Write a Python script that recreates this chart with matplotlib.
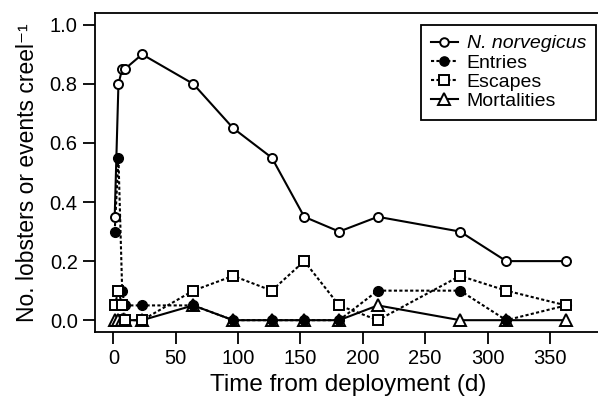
import matplotlib
matplotlib.use("Agg")
import matplotlib.pyplot as plt

plt.rcParams['font.family'] = ['Liberation Sans', 'DejaVu Sans']

days = [1, 4, 7, 9, 23, 64, 96, 127, 153, 181, 212, 278, 315, 363]
norvegicus = [0.35, 0.80, 0.85, 0.85, 0.90, 0.80, 0.65, 0.55, 0.35, 0.30, 0.35, 0.30, 0.20, 0.20]
entries = [0.30, 0.55, 0.10, 0.05, 0.05, 0.05, 0.0, 0.0, 0.0, 0.0, 0.10, 0.10, 0.0, 0.05]
escapes = [0.05, 0.10, 0.05, 0.0, 0.0, 0.10, 0.15, 0.10, 0.20, 0.05, 0.0, 0.15, 0.10, 0.05]
mortalities = [0.0, 0.0, 0.0, 0.0, 0.0, 0.05, 0.0, 0.0, 0.0, 0.0, 0.05, 0.0, 0.0, 0.0]

xticks = [0, 50, 100, 150, 200, 250, 300, 350]
yticks = [0.0, 0.2, 0.4, 0.6, 0.8, 1.0]

fig = plt.figure(figsize=(5.98, 4.05), dpi=100)
ax = fig.add_axes([95/598, 1 - 332/405, 506/598, (332 - 13)/405])

lw = 1.5
dots = (0, (1.5, 1.1))
l_m, = ax.plot(days, mortalities, '-', color='black', lw=lw, marker='^', ms=8.5,
               mfc='white', mec='black', mew=1.4, label='Mortalities', zorder=2)
l_e, = ax.plot(days, entries, linestyle=dots, color='black', lw=lw, marker='o', ms=7,
               mfc='black', mec='black', label='Entries', zorder=3)
l_s, = ax.plot(days, escapes, linestyle=dots, color='black', lw=lw, marker='s', ms=7,
               mfc='white', mec='black', mew=1.4, label='Escapes', zorder=4)
l_n, = ax.plot(days, norvegicus, '-', color='black', lw=lw, marker='o', ms=6.5,
               mfc='white', mec='black', mew=1.4, label='N. norvegicus', zorder=5)

ax.set_xlim(-14.8, 391)
ax.set_ylim(-0.04, 1.04)
ax.set_xticks(xticks)
ax.set_xticklabels([str(t) for t in xticks])
ax.set_yticks(yticks)
ax.set_yticklabels([f"{t:.1f}" for t in yticks])
ax.tick_params(direction='out', length=8.5, width=1.3, labelsize=14.5, pad=4)
for sp in ax.spines.values():
    sp.set_linewidth(1.3)

ax.set_xlabel("Time from deployment (d)", fontsize=17.5, labelpad=4)
ax.set_ylabel("No. lobsters or events creel\u207b\u00b9", fontsize=16.5, labelpad=8)

leg = ax.legend(handles=[l_n, l_e, l_s, l_m], loc='upper left',
                bbox_to_anchor=(326/506, 1 - 12/319), fontsize=14, frameon=True,
                fancybox=False, edgecolor='black', framealpha=1,
                handlelength=1.4, handletextpad=0.45, labelspacing=0.08,
                borderpad=0.5, borderaxespad=0.0, markerscale=0.95)
leg.get_frame().set_linewidth(1.3)
leg.get_texts()[0].set_fontstyle('italic')

fig.savefig("out.png", dpi=100)
